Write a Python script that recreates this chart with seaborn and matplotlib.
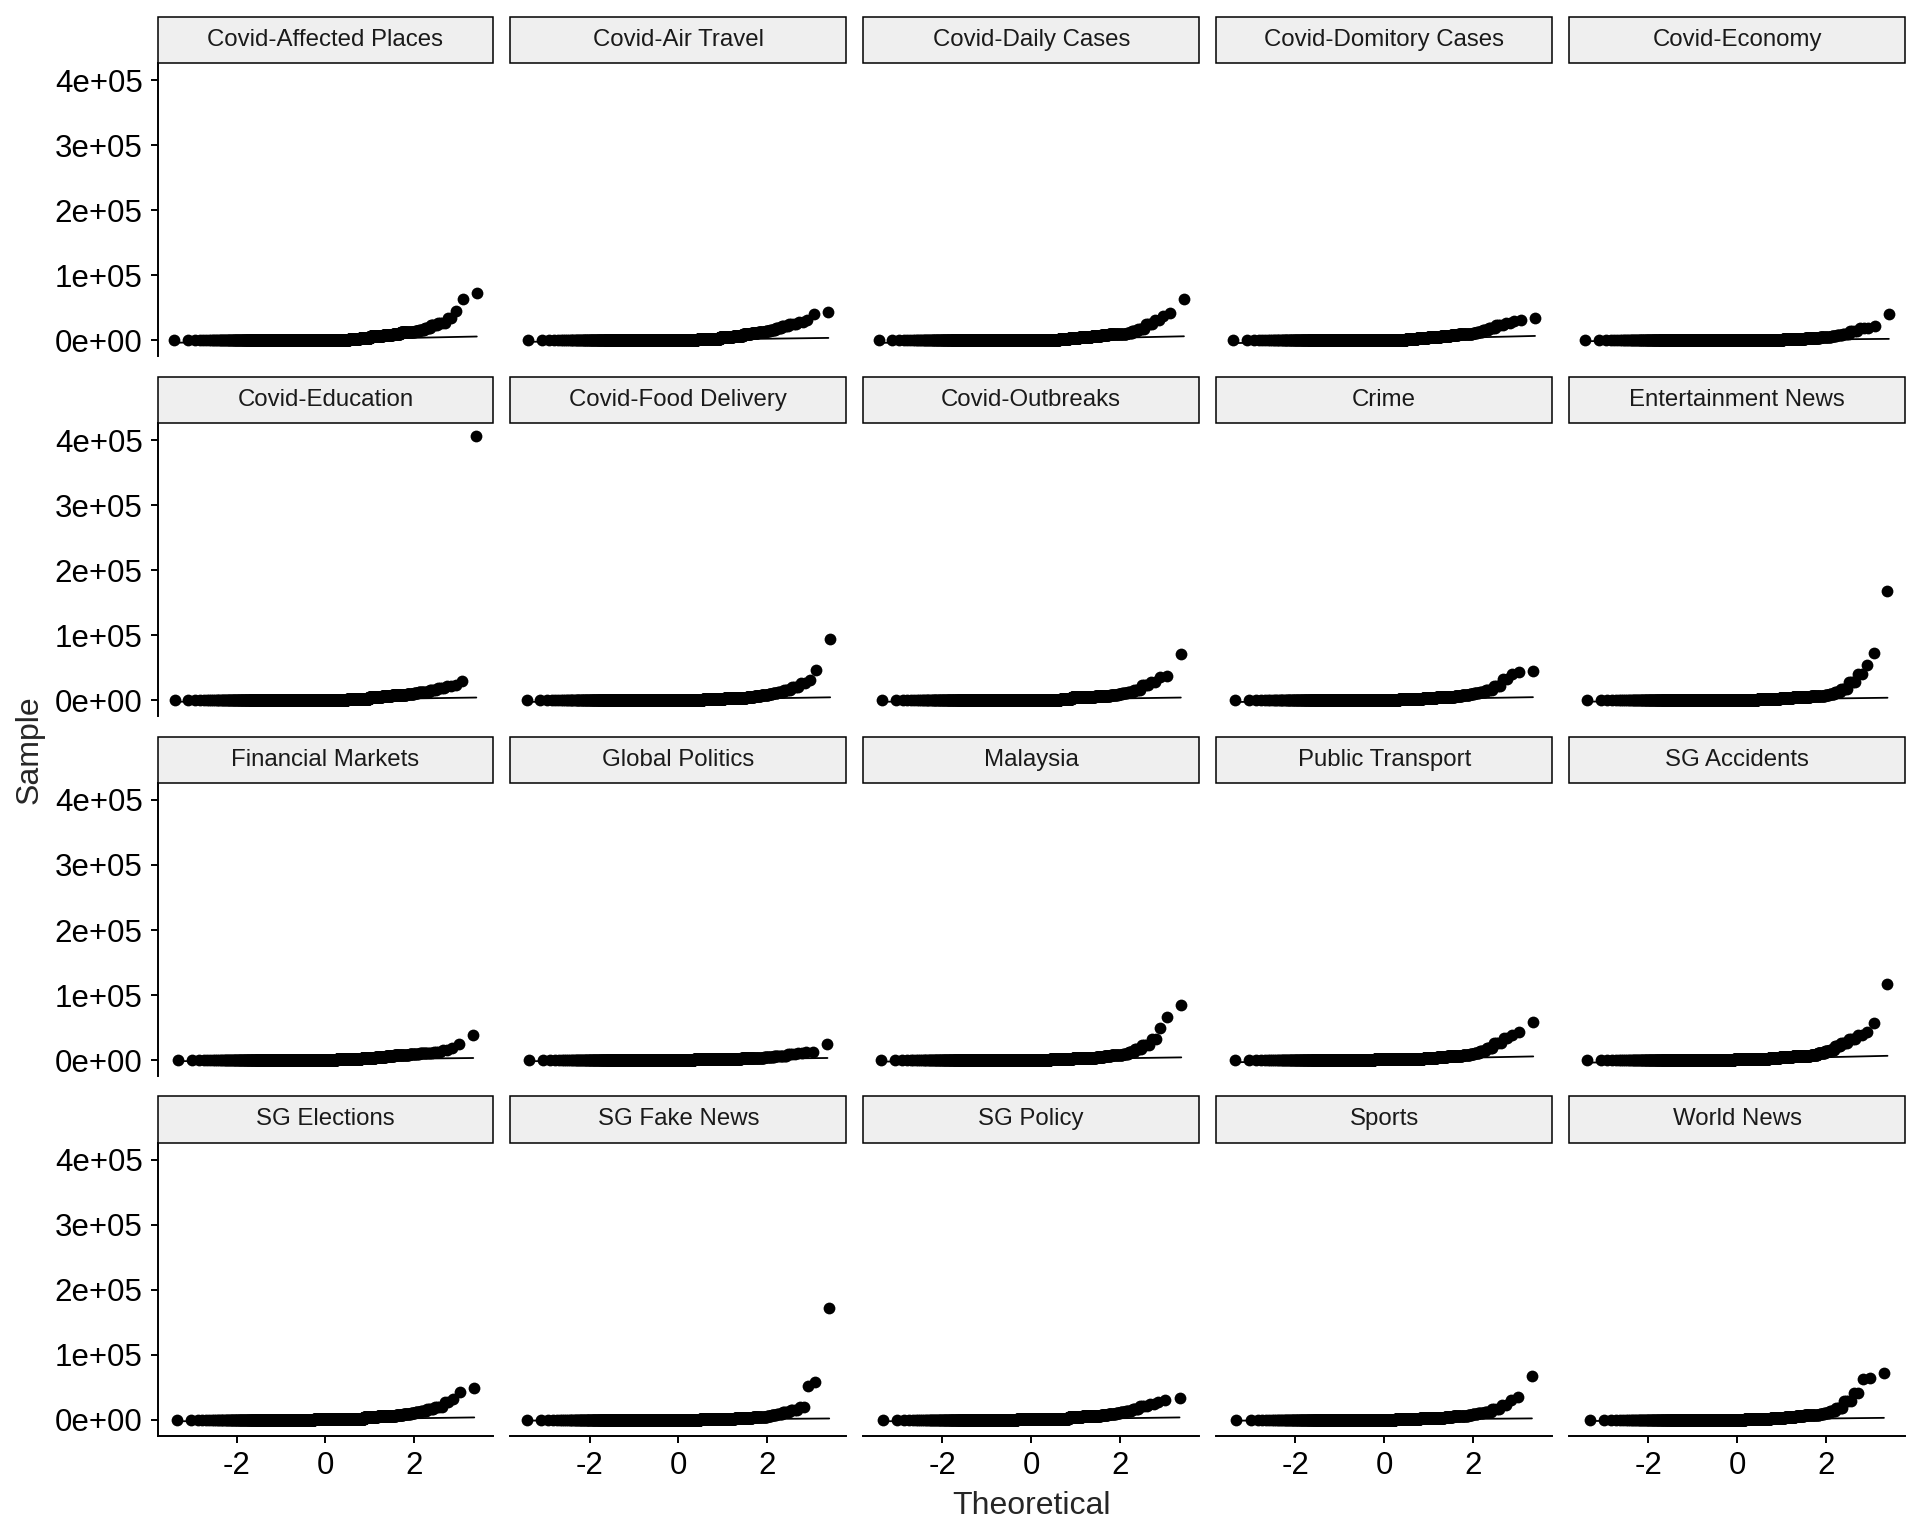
import statistics

import matplotlib
matplotlib.use('Agg')
import matplotlib.pyplot as plt
from matplotlib.patches import Rectangle
from matplotlib.ticker import FixedLocator, FuncFormatter
import numpy as np
import seaborn as sns

# Facet order as shown (alphabetical), 5 per row
TOPICS = [
    'Covid-Affected Places', 'Covid-Air Travel', 'Covid-Daily Cases', 'Covid-Domitory Cases', 'Covid-Economy',
    'Covid-Education', 'Covid-Food Delivery', 'Covid-Outbreaks', 'Crime', 'Entertainment News',
    'Financial Markets', 'Global Politics', 'Malaysia', 'Public Transport', 'SG Accidents',
    'SG Elections', 'SG Fake News', 'SG Policy', 'Sports', 'World News',
]

# approx. number of observations per topic (read from the leftmost/rightmost point)
SAMPLE_SIZES = [1540, 1380, 1720, 1480, 1600,
                1480, 1600, 1330, 1250, 1430,
                1150, 1280, 1380, 1280, 1430,
                1250, 1480, 1200, 1150, 1070]

# how many observations share each level, counted from the largest value down;
# the last level takes whatever is left of the sample
GROUP_COUNTS = [1, 1, 1, 2, 4, 5, 6, 7, 7, 16, 20, 30, 50, 90, 100, 120, 290]

# sample levels, largest first
affected_places = [73400, 63100, 45200, 34000, 26500, 23000, 19000, 15500, 14000, 13000,
                   12400, 10500, 8500, 6500, 4000, 2200, 1200, 300]
air_travel = [43600, 40000, 31300, 28000, 25000, 21500, 19000, 16000, 14000, 12800,
              11300, 9500, 7500, 5000, 2800, 1500, 800, 300]
daily_cases = [63000, 42000, 37400, 31000, 25000, 18000, 14500, 11500, 10500, 10000,
               9200, 8200, 7200, 5500, 3500, 2300, 1200, 300]
domitory_cases = [34900, 31300, 29700, 26500, 23000, 19500, 16500, 13000, 11000, 10000,
                  9200, 7800, 6300, 4600, 3400, 2500, 1300, 300]
economy = [40000, 22000, 19500, 19000, 15000, 10000, 8000, 6500, 5500, 5000,
           4100, 3500, 3000, 2300, 1400, 1000, 600, 300]
education = [406000, 30200, 24000, 22000, 18500, 15500, 13500, 12500, 11000, 10000,
             8700, 7500, 6300, 4800, 2700, 1600, 900, 300]
food_delivery = [94800, 46100, 31700, 26000, 20000, 16000, 13500, 11000, 9500, 8300,
                 7100, 5800, 4200, 2800, 2200, 1700, 900, 300]
outbreaks = [71300, 36900, 35400, 28000, 23000, 16500, 13500, 11500, 10000, 8500,
             7200, 6500, 5800, 4500, 1600, 1200, 700, 300]
crime = [45000, 44000, 40500, 33000, 21500, 16000, 13000, 11000, 9500, 8300,
         7200, 5800, 4500, 3200, 1800, 1500, 900, 300]
entertainment = [168700, 72800, 54900, 40000, 28000, 18000, 12000, 9500, 8000, 7200,
                 6200, 5200, 4300, 3200, 2000, 1500, 900, 300]
financial = [38700, 24500, 18300, 15500, 13000, 11500, 10500, 9300, 8700, 8000,
             7500, 6500, 5500, 4000, 1300, 1100, 600, 300]
global_politics = [24400, 13200, 12100, 10500, 9000, 7000, 6000, 5000, 4500, 4000,
                   3200, 2600, 2000, 1500, 1300, 1100, 600, 300]
malaysia = [85000, 67000, 50000, 32000, 24000, 17000, 13000, 10000, 8500, 7500,
            6000, 4800, 3800, 2800, 2000, 1600, 900, 300]
public_transport = [58200, 43800, 38700, 34000, 27000, 18000, 14000, 11000, 9500, 8300,
                    7000, 5800, 4700, 3500, 2100, 1900, 1000, 300]
sg_accidents = [116800, 56800, 43800, 38000, 33000, 26000, 21000, 16000, 13500, 11000,
                8600, 7000, 5800, 4500, 3000, 2400, 1300, 300]
sg_elections = [49500, 43300, 31500, 27000, 20500, 17000, 14500, 12000, 10500, 9300,
                8000, 6800, 5600, 4200, 1500, 1400, 800, 300]
sg_fake_news = [171500, 58700, 52000, 20000, 16000, 12000, 9500, 7500, 6000, 5000,
                3800, 3000, 2300, 1700, 1100, 950, 550, 300]
sg_policy = [34100, 30500, 28000, 25000, 21000, 17500, 14500, 11500, 10000, 9000,
             8000, 6800, 5600, 4200, 1500, 1400, 800, 300]
sports = [67400, 34600, 30500, 23500, 17500, 13000, 10500, 8800, 7800, 6800,
          5400, 4500, 3600, 2600, 1000, 900, 550, 300]
world_news = [72500, 63800, 62300, 42000, 29000, 19000, 14000, 11000, 9300, 8200,
              6900, 5800, 4800, 3600, 1300, 1200, 700, 300]

TOPIC_LEVELS = [affected_places, air_travel, daily_cases, domitory_cases, economy,
                education, food_delivery, outbreaks, crime, entertainment,
                financial, global_politics, malaysia, public_transport, sg_accidents,
                sg_elections, sg_fake_news, sg_policy, sports, world_news]

Y_TICKS = [0, 100000, 200000, 300000, 400000]
X_TICKS = [-2, 0, 2]

NORMAL = statistics.NormalDist()


def build_sample(levels, n):
    counts = GROUP_COUNTS + [n - sum(GROUP_COUNTS)]
    return np.sort(np.repeat(levels, counts))


def theoretical_quantiles(n):
    # same plotting positions as R's ppoints() for n > 10
    return np.array([NORMAL.inv_cdf((i + 0.5) / n) for i in range(n)])


def qq_line(sample, theo):
    q1, q3 = np.quantile(sample, [0.25, 0.75])
    z1, z3 = NORMAL.inv_cdf(0.25), NORMAL.inv_cdf(0.75)
    slope = (q3 - q1) / (z3 - z1)
    intercept = q1 - slope * z1
    xs = np.array([theo.min(), theo.max()])
    return xs, intercept + slope * xs


sns.set_theme(style='white')
plt.rcParams['font.family'] = ['Liberation Sans', 'DejaVu Sans']
plt.rcParams['axes.unicode_minus'] = False

W, H = 1920, 1536
fig, axes = plt.subplots(4, 5, figsize=(W / 100, H / 100), dpi=100, sharex=True, sharey=True)
panel_w, panel_h = 336.0, 293.3
fig.subplots_adjust(left=157.5 / W, right=1905 / W, top=1 - 63 / H, bottom=1 - 1436 / H,
                    wspace=17 / panel_w, hspace=66.3 / panel_h)

strip_h = 46 / panel_h

for i, (topic, levels, n) in enumerate(zip(TOPICS, TOPIC_LEVELS, SAMPLE_SIZES)):
    row, col = divmod(i, 5)
    ax = axes[row, col]
    sample = build_sample(levels, n)
    theo = theoretical_quantiles(n)

    sns.scatterplot(x=theo, y=sample, ax=ax, color='black', s=72, linewidth=0, legend=False, zorder=2)
    lx, ly = qq_line(sample, theo)
    sns.lineplot(x=lx, y=ly, ax=ax, color='black', linewidth=1.3, zorder=3)

    ax.set_xlabel('')
    ax.set_ylabel('')
    ax.set_facecolor('white')
    for side in ['top', 'right']:
        ax.spines[side].set_visible(False)
    ax.spines['left'].set_visible(col == 0)
    ax.spines['bottom'].set_visible(row == 3)
    for side in ['left', 'bottom']:
        ax.spines[side].set_linewidth(1.4)
        ax.spines[side].set_color('black')
    ax.tick_params(left=(col == 0), bottom=(row == 3), labelleft=(col == 0), labelbottom=(row == 3),
                   direction='out', length=4.8, width=1.4, color='black',
                   labelsize=22.5, labelcolor='black', pad=6)

    # facet strip
    ax.add_patch(Rectangle((0, 1), 1, strip_h, transform=ax.transAxes, clip_on=False,
                           facecolor='#EFEFEF', edgecolor='black', linewidth=1.1, zorder=5))
    ax.text(0.5, 1 + strip_h / 2, topic, transform=ax.transAxes, ha='center', va='center',
            fontsize=17.3, color='#1A1A1A', zorder=6)

ax0 = axes[0, 0]
ax0.yaxis.set_major_locator(FixedLocator(Y_TICKS))
ax0.yaxis.set_major_formatter(FuncFormatter(lambda v, p: f'{v:.0e}'))
ax0.xaxis.set_major_locator(FixedLocator(X_TICKS))
ax0.xaxis.set_major_formatter(FuncFormatter(lambda v, p: f'{v:.0f}'))

fig.text((157.5 + 1905) / 2 / W, 1 - 1506 / H, 'Theoretical', ha='center', va='center', fontsize=23)
fig.text(30 / W, 1 - 749.5 / H, 'Sample', ha='center', va='center', rotation=90, fontsize=23)

fig.savefig('out.png', dpi=100)
